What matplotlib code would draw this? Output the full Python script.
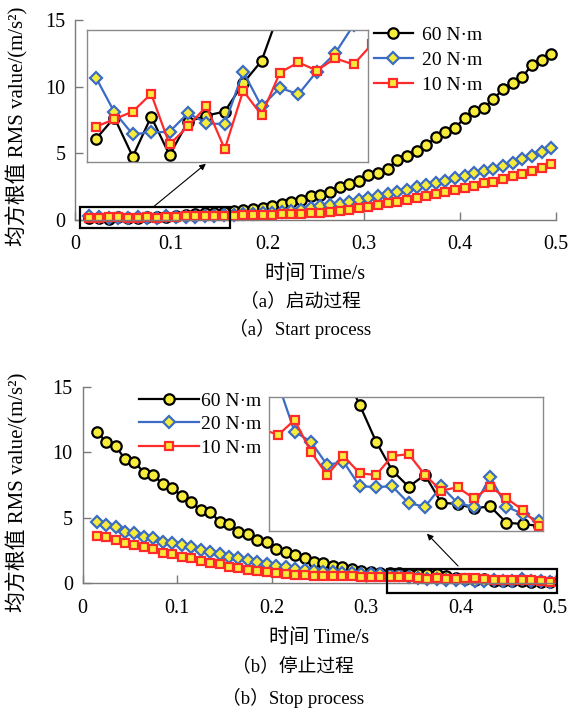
import matplotlib
matplotlib.use("Agg")
import matplotlib.pyplot as plt
from matplotlib.patches import Rectangle, FancyArrowPatch

plt.rcParams['font.family'] = ['Liberation Serif', 'Noto Sans CJK SC']

time_s = [0.015, 0.025, 0.035, 0.045, 0.055, 0.065, 0.075, 0.085, 0.095, 0.105,
          0.115, 0.125, 0.135, 0.145, 0.155, 0.165, 0.175, 0.185, 0.195, 0.205,
          0.215, 0.225, 0.235, 0.245, 0.255, 0.265, 0.275, 0.285, 0.295, 0.305,
          0.315, 0.325, 0.335, 0.345, 0.355, 0.365, 0.375, 0.385, 0.395, 0.405,
          0.415, 0.425, 0.435, 0.445, 0.455, 0.465, 0.475, 0.485, 0.495]

labels = ["60 N·m", "20 N·m", "10 N·m"]

start_60 = [0.145, 0.187, 0.110, 0.189, 0.113, 0.179, 0.191, 0.199, 0.255, 0.299,
            0.40, 0.45, 0.50, 0.55, 0.60, 0.65, 0.72, 0.80, 0.92, 1.05,
            1.19, 1.37, 1.49, 1.77, 1.87, 2.11, 2.44, 2.69, 2.93, 3.36,
            3.56, 3.86, 4.50, 4.80, 5.15, 5.60, 6.20, 6.60, 6.90, 7.66,
            8.16, 8.40, 9.10, 9.80, 10.30, 10.72, 11.64, 12.00, 12.44]
start_20 = [0.266, 0.198, 0.154, 0.158, 0.159, 0.196, 0.176, 0.174, 0.278, 0.209,
            0.246, 0.233, 0.278, 0.314, 0.37, 0.40, 0.43, 0.47, 0.50, 0.53,
            0.57, 0.67, 0.77, 0.87, 1.02, 1.12, 1.22, 1.37, 1.47, 1.62,
            1.77, 1.94, 2.11, 2.26, 2.44, 2.61, 2.76, 2.93, 3.13, 3.31,
            3.51, 3.68, 3.86, 4.05, 4.30, 4.55, 4.80, 5.10, 5.42]
start_10 = [0.169, 0.184, 0.199, 0.234, 0.134, 0.170, 0.209, 0.125, 0.240, 0.192,
            0.276, 0.296, 0.280, 0.304, 0.292, 0.332, 0.35, 0.37, 0.38, 0.40,
            0.42, 0.45, 0.48, 0.52, 0.56, 0.62, 0.68, 0.77, 0.87, 0.97,
            1.12, 1.25, 1.37, 1.49, 1.62, 1.77, 1.94, 2.07, 2.24, 2.37,
            2.56, 2.74, 2.86, 3.06, 3.31, 3.48, 3.68, 3.93, 4.23]

stop_60 = [11.56, 10.80, 10.47, 9.48, 9.28, 8.44, 8.26, 7.57, 7.25, 6.66,
           6.23, 5.59, 5.46, 4.70, 4.52, 3.94, 3.76, 3.30, 3.17, 2.59,
           2.41, 2.16, 1.90, 1.65, 1.52, 1.32, 1.27, 1.07, 0.96, 0.84,
           0.80, 0.77, 0.75, 0.74, 0.73, 0.72, 0.70, 0.571, 0.434, 0.325,
           0.265, 0.309, 0.205, 0.200, 0.184, 0.191, 0.130, 0.125, 0.118]
stop_20 = [4.65, 4.45, 4.32, 3.94, 3.81, 3.56, 3.43, 3.17, 3.10, 2.92,
           2.75, 2.54, 2.41, 2.23, 2.03, 1.91, 1.78, 1.65, 1.47, 1.32,
           1.22, 1.07, 0.98, 0.93, 0.88, 0.84, 0.80, 0.76, 0.73, 0.70,
           0.68, 0.66, 0.65, 0.471, 0.434, 0.346, 0.359, 0.266, 0.264, 0.266,
           0.203, 0.190, 0.266, 0.204, 0.189, 0.302, 0.190, 0.163, 0.136]
stop_10 = [3.61, 3.51, 3.30, 3.10, 2.92, 2.79, 2.59, 2.34, 2.23, 2.03,
           1.91, 1.73, 1.57, 1.47, 1.27, 1.14, 1.03, 0.93, 0.84, 0.77,
           0.71, 0.66, 0.62, 0.59, 0.57, 0.55, 0.53, 0.52, 0.51, 0.50,
           0.49, 0.481, 0.459, 0.515, 0.396, 0.309, 0.380, 0.315, 0.309, 0.380,
           0.387, 0.309, 0.250, 0.263, 0.221, 0.265, 0.221, 0.178, 0.118]

x_ticks = [0, 0.1, 0.2, 0.3, 0.4, 0.5]
x_ticklabels = ["0", "0.1", "0.2", "0.3", "0.4", "0.5"]
y_ticks = [0, 5, 10, 15]

YEL = "#f7ec3a"
styles = [
    dict(color="black", marker="o", mfc=YEL, mec="black", ms=7.5),
    dict(color="#3b6cc4", marker="D", mfc=YEL, mec="#3b6cc4", ms=6.5),
    dict(color="#ff2a2a", marker="s", mfc=YEL, mec="#ff2a2a", ms=6.3),
]

W, H = 581, 719
fig = plt.figure(figsize=(W / 100, H / 100), dpi=100)


def fr(x0, y0, x1, y1):
    # image pixel box -> figure fraction rect
    return [x0 / W, 1 - y1 / H, (x1 - x0) / W, (y1 - y0) / H]


def style_main(ax):
    ax.set_xlim(0, 0.5)
    ax.set_ylim(0, 15)
    ax.set_xticks(x_ticks)
    ax.set_xticklabels(x_ticklabels)
    ax.set_yticks(y_ticks)
    for s in ["top", "right"]:
        ax.spines[s].set_visible(False)
    for s in ["left", "bottom"]:
        ax.spines[s].set_color("#7a7a7a")
        ax.spines[s].set_linewidth(1.0)
    ax.tick_params(direction="in", length=6, width=1.0, color="#7a7a7a",
                   labelsize=14.5)
    ax.tick_params(axis="x", pad=11)
    ax.tick_params(axis="y", pad=7)
    ax.set_xlabel("时间 Time/s", fontsize=14.5, labelpad=8)
    ax.set_ylabel("均方根值 RMS value/(m/s²)", fontsize=15)


def style_inset(ax, xl, yl):
    ax.set_xlim(*xl)
    ax.set_ylim(*yl)
    ax.set_xticks([])
    ax.set_yticks([])
    for s in ax.spines.values():
        s.set_color("#8a8a8a")
        s.set_linewidth(1.0)


# ---------- (a) start ----------
ax1 = fig.add_axes(fr(75, 20, 556, 220))
series_a = [start_60, start_20, start_10]
handles = []
for ys, st, lb in zip(series_a, styles, labels):
    h, = ax1.plot(time_s, ys, lw=1.6, mew=1.6, label=lb, clip_on=False, **st)
    handles.append(h)
style_main(ax1)
ax1.yaxis.set_label_coords(-(75 - 28) / 481, 0.47)
ax1.add_patch(Rectangle((0.0052, -0.6), 0.161 - 0.0052, 0.97 + 0.6, fill=False,
                        ec="black", lw=1.6, clip_on=False, zorder=5))
ax1.legend(handles=handles, loc="upper left", frameon=False, fontsize=14,
           handlelength=2.0, handletextpad=0.45, labelspacing=0.38,
           borderpad=0, borderaxespad=0,
           bbox_to_anchor=(374 / W, 1 - 26 / H), bbox_transform=fig.transFigure)

in1 = fig.add_axes(fr(87.3, 30, 368.3, 161.7))
for ys, st in zip(series_a, styles):
    in1.plot(time_s, ys, lw=1.6, mew=1.6, **st)
style_inset(in1, (0.0103, 0.1630), (0.10, 0.36))

fig.patches.append(FancyArrowPatch((152 / W, 1 - 208 / H), (208 / W, 1 - 162 / H),
                                   transform=fig.transFigure, arrowstyle="-|>",
                                   mutation_scale=9, lw=0.8, color="black"))

fig.text(300 / W, 1 - 301 / H, "（a）启动过程", ha="center", va="center", fontsize=13.5)
fig.text(300 / W, 1 - 329 / H, "（a）Start process", ha="center", va="center", fontsize=13.5)

# ---------- (b) stop ----------
ax2 = fig.add_axes(fr(82.5, 386.7, 555, 583.3))
series_b = [stop_60, stop_20, stop_10]
handles = []
for ys, st, lb in zip(series_b, styles, labels):
    h, = ax2.plot(time_s, ys, lw=1.6, mew=1.6, label=lb, clip_on=False, **st)
    handles.append(h)
style_main(ax2)
ax2.yaxis.set_label_coords(-(82.5 - 28) / 472.5, 0.465)
ax2.add_patch(Rectangle((0.322, -0.76), 0.5024 - 0.322, 1.07 + 0.76, fill=False,
                        ec="black", lw=1.6, clip_on=False, zorder=5))
ax2.legend(handles=handles, loc="upper left", frameon=False, fontsize=14,
           handlelength=3.1, handletextpad=0.1, labelspacing=0.3,
           borderpad=0, borderaxespad=0,
           bbox_to_anchor=(139 / W, 1 - 392 / H), bbox_transform=fig.transFigure)

in2 = fig.add_axes(fr(269.3, 397.3, 543.3, 530.7))
for ys, st in zip(series_b, styles):
    in2.plot(time_s, ys, lw=1.6, mew=1.6, **st)
style_inset(in2, (0.3295, 0.4976), (0.10, 0.60))

fig.patches.append(FancyArrowPatch((460 / W, 1 - 568 / H), (425 / W, 1 - 531.7 / H),
                                   transform=fig.transFigure, arrowstyle="-|>",
                                   mutation_scale=9, lw=0.8, color="black"))

fig.text(293 / W, 1 - 666 / H, "（b）停止过程", ha="center", va="center", fontsize=13.5)
fig.text(293 / W, 1 - 698 / H, "（b）Stop process", ha="center", va="center", fontsize=13.5)

fig.savefig("out.png", dpi=100)
